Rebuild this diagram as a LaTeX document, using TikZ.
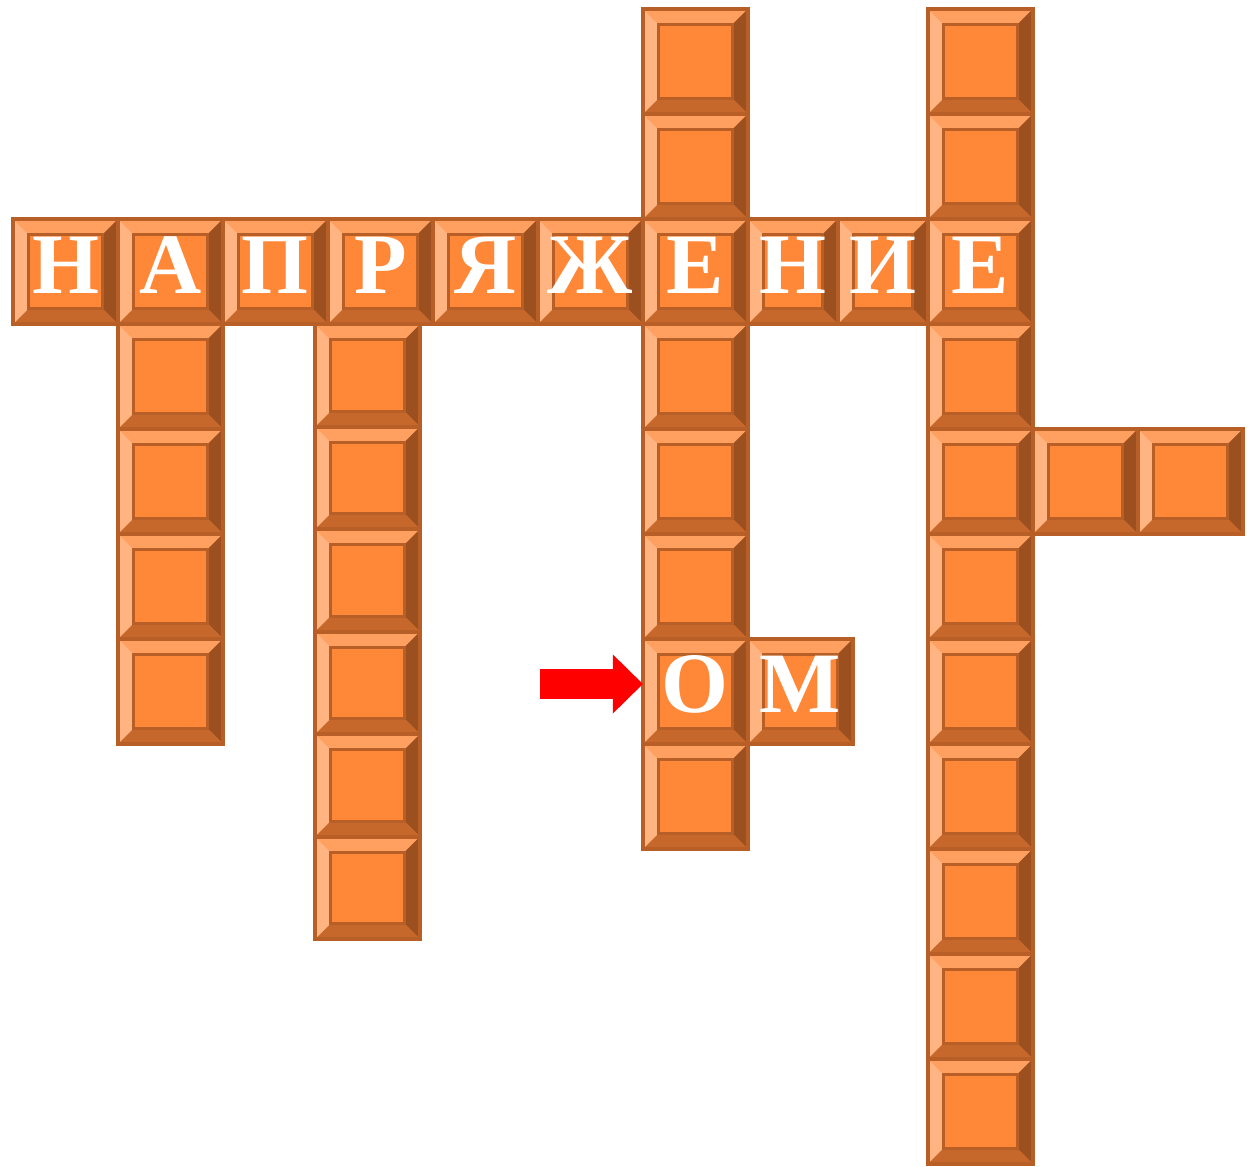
\documentclass[tikz,border=0pt]{standalone}
\usepackage{fontspec}
\usetikzlibrary{arrows.meta, positioning}

\newfontfamily\cellfont{Liberation Serif}[BoldFont={Liberation Serif Bold}]
\definecolor{cellface}{RGB}{255,136,56}
\definecolor{cellline}{RGB}{184,95,40}
\definecolor{bevtopc}{RGB}{255,160,96}
\definecolor{bevleftc}{RGB}{255,180,130}
\definecolor{bevrightc}{RGB}{156,80,32}
\definecolor{bevbottomc}{RGB}{198,104,44}
\newcommand{\bev}{0.31cm}

\begin{document}
\begin{tikzpicture}[
x=0.02cm, y=-0.02cm,
node distance=0pt,
cellbox/.style={
rectangle, draw=cellline, line width=2.2pt, fill=cellface,
minimum width=2.1cm, minimum height=2.1cm,
inner sep=0pt, outer sep=0pt,
text=white, font=\cellfont\bfseries\fontsize{49pt}{49pt}\selectfont,
text height=0.86cm, text depth=0pt,
path picture={
\path (path picture bounding box.north west) coordinate (ppa)
(path picture bounding box.north east) coordinate (ppb)
(path picture bounding box.south east) coordinate (ppc)
(path picture bounding box.south west) coordinate (ppd)
([shift={(\bev,-\bev)}]ppa) coordinate (ppe)
([shift={(-\bev,-\bev)}]ppb) coordinate (ppf)
([shift={(-\bev,\bev)}]ppc) coordinate (ppg)
([shift={(\bev,\bev)}]ppd) coordinate (pph);
\fill[bevtopc] (ppa) -- (ppb) -- (ppf) -- (ppe) -- cycle;
\fill[bevrightc] (ppb) -- (ppc) -- (ppg) -- (ppf) -- cycle;
\fill[bevbottomc] (ppc) -- (ppd) -- (pph) -- (ppg) -- cycle;
\fill[bevleftc] (ppd) -- (ppa) -- (ppe) -- (pph) -- cycle;
\draw[cellline, line width=1.6pt] (ppe) rectangle (ppg);
}
},
narrow/.style={cellbox, minimum width=1.8cm},
short/.style={cellbox, minimum height=2.05cm},
pointer/.style={draw=red, line width=0.6cm,
-{Triangle[length=0.6cm, width=1.18cm, line width=0pt]}}
]
\useasboundingbox (0,0) rectangle (1259,1167);

% the answer word
\node[cellbox] (w1) at (65.5,271.5) {Н};
\node[cellbox, right=of w1] (w2) {А};
\node[cellbox, right=of w2] (w3) {П};
\node[cellbox, right=of w3] (w4) {Р};
\node[cellbox, right=of w4] (w5) {Я};
\node[cellbox, right=of w5] (w6) {Ж};
\node[cellbox, right=of w6] (w7) {Е};
\node[narrow, right=of w7] (w8) {Н};
\node[narrow, right=of w8] (w9) {И};
\node[cellbox, right=of w9] (w10) {Е};

% column through А
\node[cellbox, below=of w2] (a1) {};
\node[cellbox, below=of a1] (a2) {};
\node[cellbox, below=of a2] (a3) {};
\node[cellbox, below=of a3] (a4) {};

% column near Р
\node[short] (r1) at (367.5,375.5) {};
\node[short, below=of r1] (r2) {};
\node[short, below=of r2] (r3) {};
\node[short, below=of r3] (r4) {};
\node[short, below=of r4] (r5) {};
\node[short, below=of r5] (r6) {};

% column through the first Е
\node[cellbox, above=of w7] (e2) {};
\node[cellbox, above=of e2] (e1) {};
\node[cellbox, below=of w7] (e3) {};
\node[cellbox, below=of e3] (e4) {};
\node[cellbox, below=of e4] (e5) {};
\node[cellbox, below=of e5] (om1) {О};
\node[cellbox, right=of om1] (om2) {М};
\node[cellbox, below=of om1] (e6) {};

% column through the last Е
\node[cellbox, above=of w10] (k2) {};
\node[cellbox, above=of k2] (k1) {};
\node[cellbox, below=of w10] (k3) {};
\node[cellbox, below=of k3] (k4) {};
\node[cellbox, right=of k4] (s1) {};
\node[cellbox, right=of s1] (s2) {};
\node[cellbox, below=of k4] (k5) {};
\node[cellbox, below=of k5] (k6) {};
\node[cellbox, below=of k6] (k7) {};
\node[cellbox, below=of k7] (k8) {};
\node[cellbox, below=of k8] (k9) {};
\node[cellbox, below=of k9] (k10) {};

% arrow to the answer
\coordinate (tail) at (540,684);
\draw[pointer] (tail) -- (tail -| om1.west);

\end{tikzpicture}
\end{document}
